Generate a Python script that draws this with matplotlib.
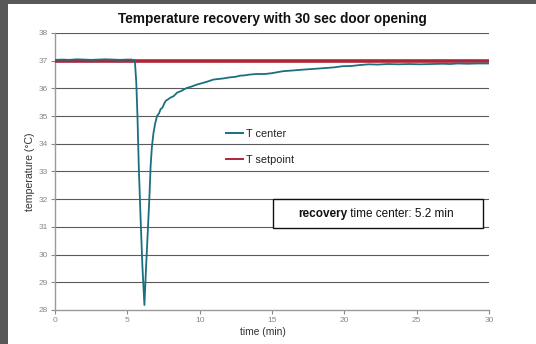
import matplotlib
matplotlib.use('Agg')
import matplotlib.pyplot as plt
from matplotlib.patches import Rectangle
from matplotlib.lines import Line2D

# time (min) and centre temperature (degC)
time_min = [0, 0.5, 1, 1.5, 2, 2.5, 3, 3.5, 4, 4.5, 5, 5.3, 5.52, 5.62, 5.7,
            5.79, 5.91, 6.04, 6.18, 6.3, 6.41, 6.52, 6.61, 6.7, 6.81, 6.93,
            7.05, 7.19, 7.3, 7.42, 7.55, 7.65, 7.8, 7.99, 8.2, 8.45, 8.7, 8.9,
            9.13, 9.4, 9.82, 10.1, 10.5, 10.96, 11.3, 11.64, 12.1, 12.5, 12.79,
            13.1, 13.47, 13.95, 14.5, 15.0, 15.75, 16.5, 17.2, 18.04, 18.8,
            19.3, 19.86, 20.5, 21.0, 21.69, 22.3, 23.0, 23.74, 24.5, 25.2,
            26.03, 26.8, 27.3, 27.85, 28.5, 29.2, 30.0]
t_center = [37.03, 37.04, 37.03, 37.05, 37.04, 37.03, 37.04, 37.05, 37.04,
            37.03, 37.04, 37.04, 37.0, 36.2, 35.0, 33.2, 31.4, 29.6, 28.18,
            29.6, 30.8, 32.0, 33.2, 33.9, 34.4, 34.75, 35.0, 35.1, 35.25, 35.3,
            35.45, 35.55, 35.6, 35.67, 35.72, 35.85, 35.9, 35.96, 36.02, 36.06,
            36.14, 36.18, 36.24, 36.32, 36.34, 36.36, 36.4, 36.42, 36.46, 36.47,
            36.5, 36.52, 36.52, 36.55, 36.62, 36.65, 36.68, 36.71, 36.74, 36.76,
            36.8, 36.81, 36.84, 36.87, 36.86, 36.88, 36.87, 36.88, 36.87, 36.88,
            36.89, 36.88, 36.9, 36.89, 36.9, 36.9]
setpoint_time = [0, 30]
t_setpoint = [37.0, 37.0]

x_ticks = [0, 5, 10, 15, 20, 25, 30]
y_ticks = [28, 29, 30, 31, 32, 33, 34, 35, 36, 37, 38]

teal = '#1B6F80'
red = '#B02438'

plt.rcParams['font.family'] = ['Liberation Sans', 'DejaVu Sans']

fig = plt.figure(figsize=(5.36, 3.44), dpi=100)
fig.patch.set_facecolor('white')
# dark frame strips (left and top)
fig.patches.append(Rectangle((0, 0), 8 / 536, 1, transform=fig.transFigure,
                             facecolor='#585858', edgecolor='none'))
fig.patches.append(Rectangle((0, 1 - 4 / 344), 1, 4 / 344, transform=fig.transFigure,
                             facecolor='#585858', edgecolor='none'))

ax = fig.add_axes([55 / 536, 1 - 310 / 344, 434 / 536, 277 / 344])
ax.set_facecolor('white')

# horizontal grid
for yv in y_ticks[1:]:
    ax.axhline(yv, color='#5a5a5a', lw=0.8, zorder=1)

ax.plot(setpoint_time, t_setpoint, color=red, lw=2.6, zorder=3)
ax.plot(time_min, t_center, color=teal, lw=1.3, zorder=4)

ax.set_xlim(0, 30)
ax.set_ylim(28, 38)
ax.set_xticks(x_ticks)
ax.set_yticks(y_ticks)
ax.tick_params(axis='both', labelsize=6, colors='#888888', length=3, width=0.8,
               direction='out', pad=2)
for s in ['top', 'right']:
    ax.spines[s].set_visible(False)
for s in ['left', 'bottom']:
    ax.spines[s].set_color('#999999')
    ax.spines[s].set_linewidth(1.0)

ax.set_title('Temperature recovery with 30 sec door opening', fontsize=9.8,
             fontweight='bold', color='#111111', pad=7)
ax.set_xlabel('time (min)', fontsize=7.4, color='#333333')
ax.xaxis.set_label_coords((263 - 55) / 434, -0.062)
ax.set_ylabel('temperature (°C)', fontsize=7.6, color='#333333', labelpad=3)

handles = [Line2D([], [], color=teal, lw=1.4), Line2D([], [], color=red, lw=1.4)]
ax.legend(handles, ['T center', 'T setpoint'], loc='upper left',
          bbox_to_anchor=(0.372, 0.69), frameon=False, fontsize=7.8,
          handlelength=1.57, handletextpad=0.28, labelspacing=1.5,
          labelcolor='#222222')

# recovery time box
ax.add_patch(Rectangle((15.05, 30.97), 14.53, 1.03, facecolor='white',
                       edgecolor='#111111', lw=1.0, zorder=5))
ax.text(20.18, 31.48, 'recovery', fontsize=8.5, fontweight='bold', ha='right',
        va='center', color='#111111', zorder=6)
ax.text(20.18, 31.48, ' time center: 5.2 min', fontsize=8.5, ha='left',
        va='center', color='#111111', zorder=6)

fig.savefig('out.png', dpi=100, facecolor=fig.get_facecolor())
